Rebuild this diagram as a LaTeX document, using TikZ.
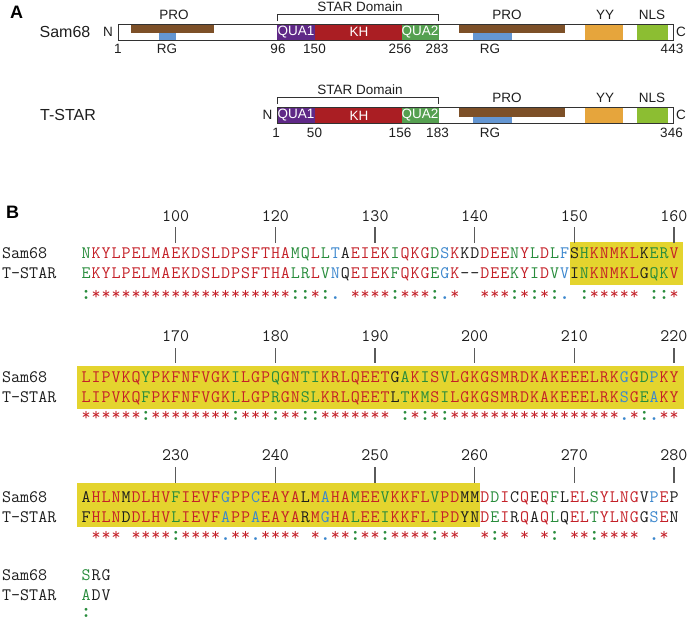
\documentclass[tikz,border=0pt]{standalone}
\usepackage{fontspec}
\setmainfont{Liberation Sans}
\definecolor{cpro}{RGB}{125,80,40}
\definecolor{crg}{RGB}{100,150,210}
\definecolor{cquaone}{RGB}{95,40,135}
\definecolor{ckh}{RGB}{170,30,35}
\definecolor{cquatwo}{RGB}{85,160,80}
\definecolor{cyy}{RGB}{230,165,60}
\definecolor{cnls}{RGB}{140,190,50}
\definecolor{barline}{RGB}{50,50,50}
\definecolor{hl}{RGB}{228,212,46}
\definecolor{tickgray}{RGB}{90,90,90}
\definecolor{cr}{RGB}{196,32,40}
\definecolor{cg}{RGB}{40,140,60}
\definecolor{cb}{RGB}{60,135,205}
\definecolor{ck}{RGB}{30,30,30}
\newlength\seqpitch
\setlength\seqpitch{9.966pt}
\newcommand\seqfont{\ttfamily\fontsize{17.5}{20}\selectfont}
\ExplSyntaxOn
\NewDocumentCommand \seqcol { m m }
 {
  \int_step_inline:nn { \tl_count:n {#1} }
   {
    \makebox[\seqpitch][c]{
    \str_case_e:nnF { \tl_item:nn {#2} {##1} }
     {
      { * } { \textcolor{cr}{ \tl_item:nn {#1} {##1} } }
      { : } { \textcolor{cg}{ \tl_item:nn {#1} {##1} } }
      { . } { \textcolor{cb}{ \tl_item:nn {#1} {##1} } }
     }
     { \textcolor{ck}{ \tl_item:nn {#1} {##1} } }
    }
   }
 }
\NewDocumentCommand \conscol { m }
 {
  \int_step_inline:nn { \tl_count:n {#1} }
   {
    \makebox[\seqpitch][c]{
    \str_case_e:nnF { \tl_item:nn {#1} {##1} }
     {
      { * } { \textcolor{cr}{*} }
      { : } { \textcolor{cg}{\fontsize{21}{21}\selectfont\bfseries :} }
      { . } { \textcolor{cb}{\fontsize{21}{21}\selectfont\bfseries .} }
     }
     { \hphantom{*} }
    }
   }
 }
\ExplSyntaxOff
\begin{document}
\begin{tikzpicture}[x=1pt,y=-1pt,
  panel/.style={font=\fontsize{18}{20}\selectfont\bfseries, inner sep=0pt},
  namelbl/.style={font=\fontsize{16}{18}\selectfont, inner sep=0pt, text=ck},
  smalllbl/.style={font=\fontsize{13.5}{15}\selectfont, inner sep=0pt, text=ck},
  inlbl/.style={font=\fontsize{13.5}{15}\selectfont, inner sep=0pt, text=white},
  outline/.style={draw=barline, line width=1pt},
  brk/.style={draw=barline, line width=1pt},
  seqrow/.style={font=\seqfont, inner sep=0pt, anchor=base west},
  seqname/.style={font=\seqfont, inner sep=0pt, anchor=base west, text=ck},
  ticklbl/.style={font=\seqfont, inner sep=0pt, anchor=base, text=ck},
  tickline/.style={draw=tickgray, line width=1.2pt},
  hlbox/.style={fill=hl}
]
\useasboundingbox (0,0) rectangle (687,621);

% ---------------- Panel A ----------------
\node[panel] (pa) at (16.5,12) {A};

% Sam68
\node[namelbl] (s68name) at (65,32) {Sam68};
\node[smalllbl] (s68N) at (108,32) {N};
\fill[cpro] (131,24) rectangle (214,33);
\fill[crg] (159,33) rectangle (176,40);
\fill[cquaone] (277,24) rectangle (315,40);
\fill[ckh] (315,24) rectangle (402,40);
\fill[cquatwo] (402,24) rectangle (439,40);
\fill[cpro] (459,24) rectangle (565,33);
\fill[crg] (473,33) rectangle (512,40);
\fill[cyy] (585,24) rectangle (623,40);
\fill[cnls] (637,24) rectangle (668,40);
\draw[outline] (118,24) rectangle (673,40);
\node[smalllbl] (s68C) at (681,32) {C};
\node[inlbl] (s68q1) at (296,32) {QUA1};
\node[inlbl] (s68kh) at (359,32) {KH};
\node[inlbl] (s68q2) at (420,32) {QUA2};
\node[smalllbl] (s68pro1) at (174,15) {PRO};
\node[smalllbl] (s68star) at (360,7) {STAR Domain};
\draw[brk] (277,21) -- (277,14) -- (438,14) -- (438,21);
\node[smalllbl] (s68pro2) at (507,15) {PRO};
\node[smalllbl] (s68yy) at (605,15) {YY};
\node[smalllbl] (s68nls) at (652,15) {NLS};
\node[smalllbl] (s68n1) at (118,49) {1};
\node[smalllbl] (s68rg1) at (167,49) {RG};
\node[smalllbl] (s68n96) at (278,49) {96};
\node[smalllbl] (s68n150) at (314.5,49) {150};
\node[smalllbl] (s68n256) at (400,49) {256};
\node[smalllbl] (s68n283) at (437,49) {283};
\node[smalllbl] (s68rg2) at (490,49) {RG};
\node[smalllbl] (s68n443) at (672,49) {443};

% T-STAR
\node[namelbl] (tsname) at (68,115) {T-STAR};
\node[smalllbl] (tsN) at (267.5,115) {N};
\fill[cquaone] (277,107.5) rectangle (315,123.5);
\fill[ckh] (315,107.5) rectangle (402,123.5);
\fill[cquatwo] (402,107.5) rectangle (439,123.5);
\fill[cpro] (459,107.5) rectangle (565,116.5);
\fill[crg] (473,116.5) rectangle (512,123.5);
\fill[cyy] (585,107.5) rectangle (623,123.5);
\fill[cnls] (637,107.5) rectangle (668,123.5);
\draw[outline] (277,107.5) rectangle (673,123.5);
\node[smalllbl] (tsC) at (681,115) {C};
\node[inlbl] (tsq1) at (296,115.5) {QUA1};
\node[inlbl] (tskh) at (359,115.5) {KH};
\node[inlbl] (tsq2) at (420,115.5) {QUA2};
\node[smalllbl] (tsstar) at (360,90) {STAR Domain};
\draw[brk] (277,104) -- (277,97) -- (438,97) -- (438,104);
\node[smalllbl] (tspro) at (507,98) {PRO};
\node[smalllbl] (tsyy) at (605,98) {YY};
\node[smalllbl] (tsnls) at (652,98) {NLS};
\node[smalllbl] (tsn1) at (276,132.5) {1};
\node[smalllbl] (tsn50) at (314.5,132.5) {50};
\node[smalllbl] (tsn156) at (400,132.5) {156};
\node[smalllbl] (tsn183) at (437.5,132.5) {183};
\node[smalllbl] (tsrg) at (490,132.5) {RG};
\node[smalllbl] (tsn346) at (671.5,132.5) {346};

% ---------------- Panel B ----------------
\node[panel] (pb) at (12.5,212) {B};

% highlight boxes
\fill[hlbox] (570,242) rectangle (683,285);
\fill[hlbox] (77,366) rectangle (684,409);
\fill[hlbox] (77,483) rectangle (479.5,527);

% row 1
\foreach \lab/\i in {100/9,120/19,130/29,140/39,150/49,160/59}{
  \node[ticklbl] (ta\i) at ({81+9.966*(\i+0.5)},221) {\lab};
  \draw[tickline] ({81+9.966*(\i+0.5)},227) -- ({81+9.966*(\i+0.5)},243);
}
\node[seqname] (r1n1) at (2,258) {Sam68};
\node[seqname] (r1n2) at (2,278) {T-STAR};
\node[seqrow] (r1s1) at (81,258) {\seqcol{NKYLPELMAEKDSLDPSFTHAMQLLTAEIEKIQKGDSKKDDEENYLDLFSHKNMKLKERV}{:********************::*:.o****:***:.*oo***:*:*:.o:*****o::*}};
\node[seqrow] (r1s2) at (81,278) {\seqcol{EKYLPELMAEKDSLDPSFTHALRLVNQEIEKFQKGEGK--DEEKYIDVVINKNMKLGQKV}{:********************::*:.o****:***:.*oo***:*:*:.o:*****o::*}};
\node[seqrow] (r1c) at (81,299) {\conscol{:********************::*:.o****:***:.*oo***:*:*:.o:*****o::*}};

% row 2
\foreach \lab/\i in {170/9,180/19,190/29,200/39,210/49,220/59}{
  \node[ticklbl] (tb\i) at ({81+9.966*(\i+0.5)},341) {\lab};
  \draw[tickline] ({81+9.966*(\i+0.5)},348) -- ({81+9.966*(\i+0.5)},363);
}
\node[seqname] (r2n1) at (2,382) {Sam68};
\node[seqname] (r2n2) at (2,402) {T-STAR};
\node[seqrow] (r2s1) at (81,382) {\seqcol{LIPVKQYPKFNFVGKILGPQGNTIKRLQEETGAKISVLGKGSMRDKAKEEELRKGGDPKY}{******:********:***:**::*******o:*:*:*****************.*:.**}};
\node[seqrow] (r2s2) at (81,402) {\seqcol{LIPVKQFPKFNFVGKLLGPRGNSLKRLQEETLTKMSILGKGSMRDKAKEEELRKSGEAKY}{******:********:***:**::*******o:*:*:*****************.*:.**}};
\node[seqrow] (r2c) at (81,420) {\conscol{******:********:***:**::*******o:*:*:*****************.*:.**}};

% row 3
\foreach \lab/\i in {230/9,240/19,250/29,260/39,270/49,280/59}{
  \node[ticklbl] (tc\i) at ({81+9.966*(\i+0.5)},460) {\lab};
  \draw[tickline] ({81+9.966*(\i+0.5)},467) -- ({81+9.966*(\i+0.5)},483);
}
\node[seqname] (r3n1) at (2,502) {Sam68};
\node[seqname] (r3n2) at (2,522) {T-STAR};
\node[seqrow] (r3s1) at (81,502) {\seqcol{AHLNMDLHVFIEVFGPPCEAYALMAHAMEEVKKFLVPDMMDDICQEQFLELSYLNGVPEP}{o***o****:****.**.****o*.**:**:****:**oo*:*o*o*:o**:****o.*o}};
\node[seqrow] (r3s2) at (81,522) {\seqcol{FHLNDDLHVLIEVFAPPAEAYARMGHALEEIKKFLIPDYNDEIRQAQLQELTYLNGGSEN}{o***o****:****.**.****o*.**:**:****:**oo*:*o*o*:o**:****o.*o}};
\node[seqrow] (r3c) at (81,540) {\conscol{o***o****:****.**.****o*.**:**:****:**oo*:*o*o*:o**:****o.*o}};

% row 4
\node[seqname] (r4n1) at (2,580) {Sam68};
\node[seqname] (r4n2) at (2,600) {T-STAR};
\node[seqrow] (r4s1) at (81,580) {\seqcol{SRG}{:oo}};
\node[seqrow] (r4s2) at (81,600) {\seqcol{ADV}{:oo}};
\node[seqrow] (r4c) at (81,617.5) {\conscol{:oo}};
\end{tikzpicture}
\end{document}
